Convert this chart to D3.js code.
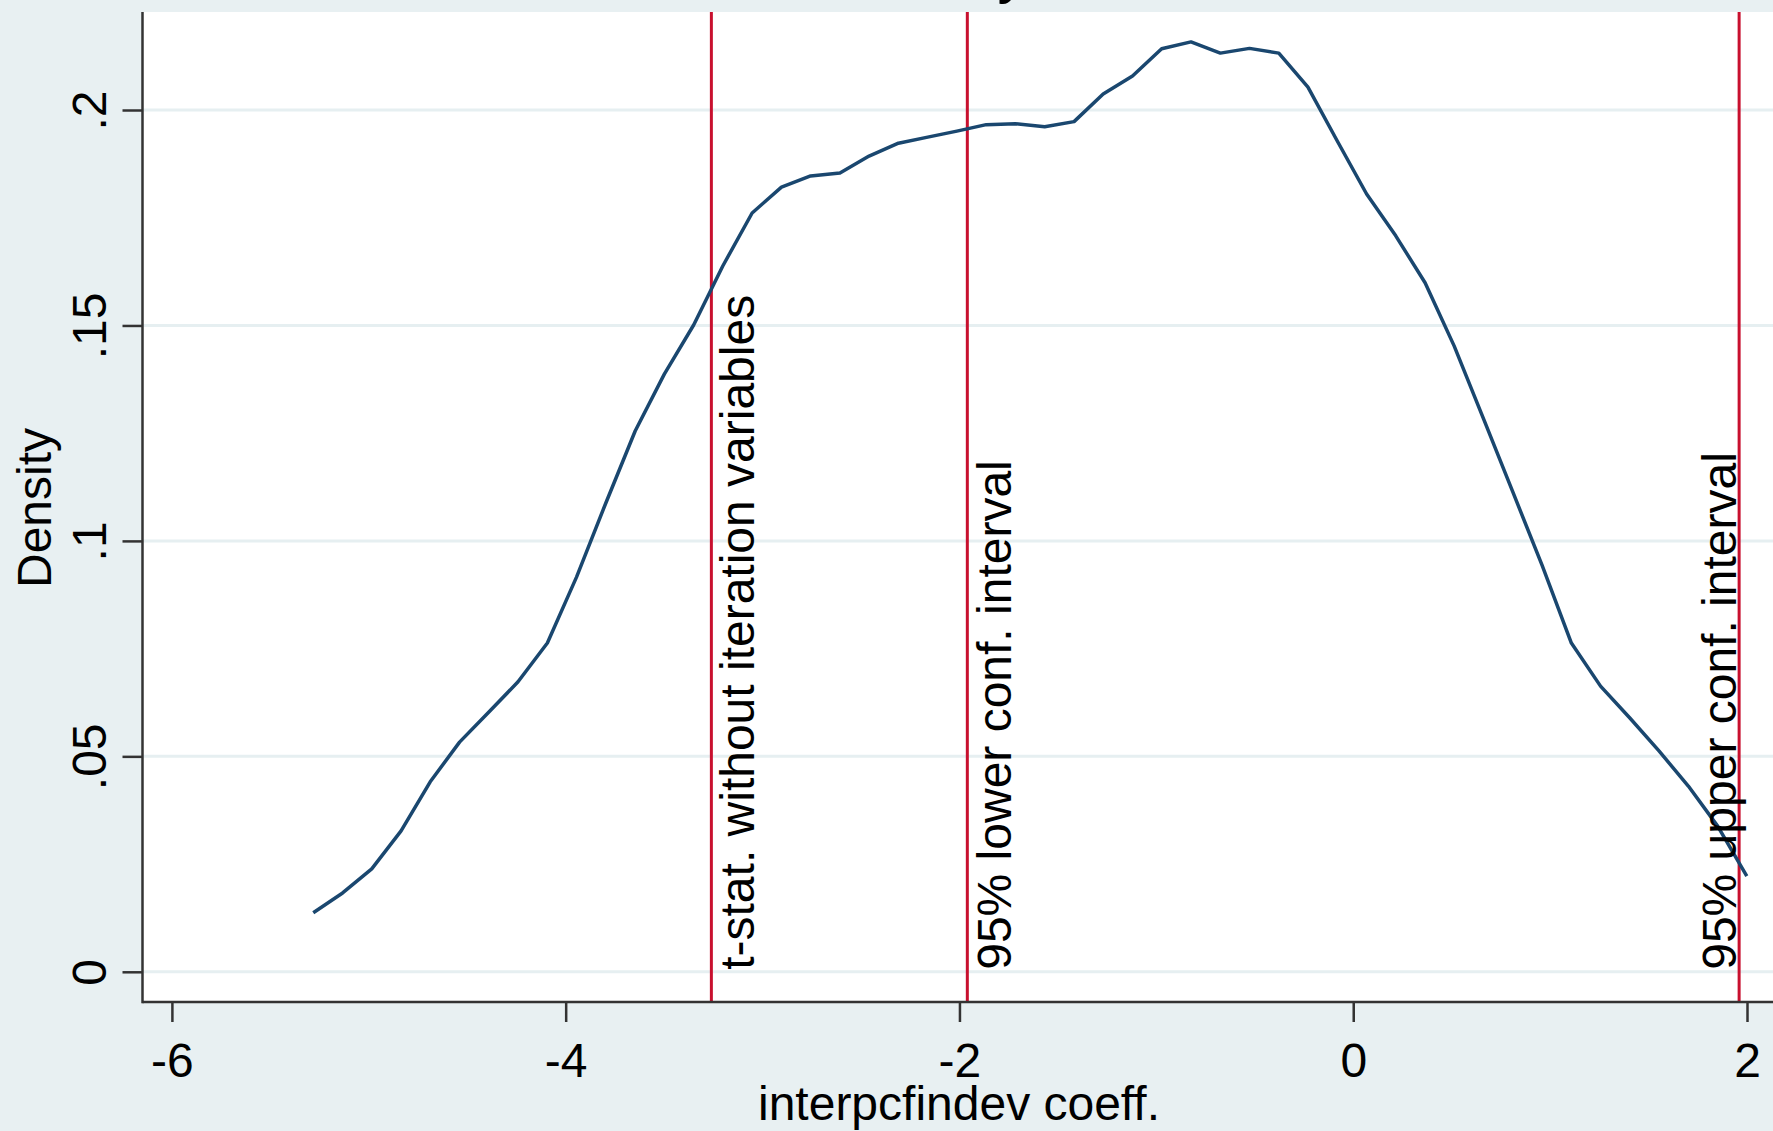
<!DOCTYPE html>
<html>
<head>
<meta charset="utf-8">
<script src="https://cdn.jsdelivr.net/npm/d3@7"></script>
<style>
  html, body { margin: 0; padding: 0; background: #E8F0F2; overflow: hidden; }
  svg { display: block; }
  text { font-family: "Liberation Sans", Arial, sans-serif; fill: #000; }
</style>
</head>
<body>
<svg id="chart" width="1773" height="1131"></svg>
<script>
// ---- data ----
const gridX = [-5.282, -5.133, -4.985, -4.836, -4.688, -4.539, -4.390, -4.242, -4.093, -3.945,
               -3.796, -3.647, -3.499, -3.350, -3.202, -3.053, -2.904, -2.756, -2.607, -2.459,
               -2.310, -2.161, -2.013, -1.864, -1.716, -1.567, -1.418, -1.270, -1.121, -0.973,
               -0.824, -0.675, -0.527, -0.378, -0.230, -0.081, 0.068, 0.216, 0.365, 0.513,
               0.662, 0.811, 0.959, 1.108, 1.256, 1.405, 1.554, 1.702, 1.851, 1.999];
const density = [0.0137, 0.0183, 0.0239, 0.0327, 0.0441, 0.0533, 0.0603, 0.0673, 0.0763, 0.0916,
                 0.1088, 0.1255, 0.1387, 0.1501, 0.1638, 0.1761, 0.1821, 0.1847, 0.1854, 0.1893,
                 0.1923, 0.1937, 0.1951, 0.1966, 0.1968, 0.1961, 0.1973, 0.2037, 0.2079, 0.2142,
                 0.2158, 0.2132, 0.2143, 0.2132, 0.2053, 0.1928, 0.1805, 0.1708, 0.1599, 0.1452,
                 0.1283, 0.1113, 0.0944, 0.0763, 0.0663, 0.0589, 0.0512, 0.0431, 0.0338, 0.0222];
const refLines = [-3.26, -1.96, 1.96];
const refLabels = ["t-stat. without iteration variables", "95% lower conf. interval", "95% upper conf. interval"];
const xTicks = [-6, -4, -2, 0, 2];
const xTickLabels = ["-6", "-4", "-2", "0", "2"];
const yTicks = [0, 0.05, 0.1, 0.15, 0.2];
const yTickLabels = ["0", ".05", ".1", ".15", ".2"];
const xTitle = "interpcfindev coeff.";
const yTitle = "Density";
const title = "Kernel density estimate";

// ---- layout ----
const W = 1773, H = 1131;
const plot = { left: 142.5, right: 1773, top: 12, bottom: 1002 };
const x = d3.scaleLinear().domain([-6, 2]).range([171.9, 1747]);
const y = d3.scaleLinear().domain([0, 0.2]).range([971.8, 110]);
const FS = 48;

const svg = d3.select("#chart");
svg.append("rect").attr("width", W).attr("height", H).attr("fill", "#E8F0F2");

// title (mostly off the top edge)
svg.append("text").attr("x", 959).attr("y", -8).attr("text-anchor", "middle")
  .attr("font-size", 60).text(title);

// plot region
svg.append("rect").attr("x", plot.left).attr("y", plot.top)
  .attr("width", plot.right - plot.left).attr("height", plot.bottom - plot.top)
  .attr("fill", "#ffffff");

// gridlines
svg.append("g").selectAll("line").data(yTicks).join("line")
  .attr("x1", plot.left).attr("x2", plot.right)
  .attr("y1", d => y(d)).attr("y2", d => y(d))
  .attr("stroke", "#E6EFF1").attr("stroke-width", 3);

// reference lines
svg.append("g").selectAll("line").data(refLines).join("line")
  .attr("x1", d => x(d)).attr("x2", d => x(d))
  .attr("y1", plot.top).attr("y2", plot.bottom)
  .attr("stroke", "#C8102E").attr("stroke-width", 3);

// density curve
const line = d3.line().x((d, i) => x(gridX[i])).y(d => y(d));
svg.append("path").datum(density).attr("d", line)
  .attr("fill", "none").attr("stroke", "#1A476F").attr("stroke-width", 3.5)
  .attr("stroke-linejoin", "round");

// reference labels (vertical)
const labelOffsets = [43, 44, -3];
svg.append("g").selectAll("text").data(refLabels).join("text")
  .attr("transform", (d, i) => `translate(${x(refLines[i]) + labelOffsets[i]},${y(0) - 2}) rotate(-90)`)
  .attr("text-anchor", "start").attr("font-size", FS).text(d => d);

// axes
const xAxis = d3.axisBottom(x).tickValues(xTicks).tickFormat((d, i) => xTickLabels[i])
  .tickSize(20).tickPadding(0);
const gx = svg.append("g").attr("transform", `translate(0,${plot.bottom})`).call(xAxis);
gx.select(".domain").remove();
gx.selectAll(".tick line").attr("stroke", "#333").attr("stroke-width", 2.5);
gx.selectAll(".tick text").attr("font-size", FS).attr("dy", null).attr("y", 75)
  .attr("font-family", "Liberation Sans, Arial, sans-serif").attr("fill", "#000");

const yAxis = d3.axisLeft(y).tickValues(yTicks).tickFormat((d, i) => yTickLabels[i])
  .tickSize(20).tickPadding(0);
const gy = svg.append("g").attr("transform", `translate(${plot.left},0)`).call(yAxis);
gy.select(".domain").remove();
gy.selectAll(".tick line").attr("stroke", "#333").attr("stroke-width", 2.5);
gy.selectAll(".tick text")
  .attr("x", null).attr("dy", null)
  .attr("transform", `translate(${106 - plot.left},0) rotate(-90)`)
  .attr("text-anchor", "middle")
  .attr("font-size", FS).attr("font-family", "Liberation Sans, Arial, sans-serif").attr("fill", "#000");

// axis lines
svg.append("line").attr("x1", plot.left).attr("x2", plot.left).attr("y1", plot.top).attr("y2", plot.bottom + 1.25)
  .attr("stroke", "#333").attr("stroke-width", 2.5);
svg.append("line").attr("x1", plot.left).attr("x2", plot.right).attr("y1", plot.bottom).attr("y2", plot.bottom)
  .attr("stroke", "#333").attr("stroke-width", 2.5);

// axis titles
svg.append("text").attr("x", 959).attr("y", 1120).attr("text-anchor", "middle")
  .attr("font-size", FS).text(xTitle);
svg.append("text").attr("transform", `translate(51,508) rotate(-90)`).attr("text-anchor", "middle")
  .attr("font-size", FS).text(yTitle);
</script>
</body>
</html>
